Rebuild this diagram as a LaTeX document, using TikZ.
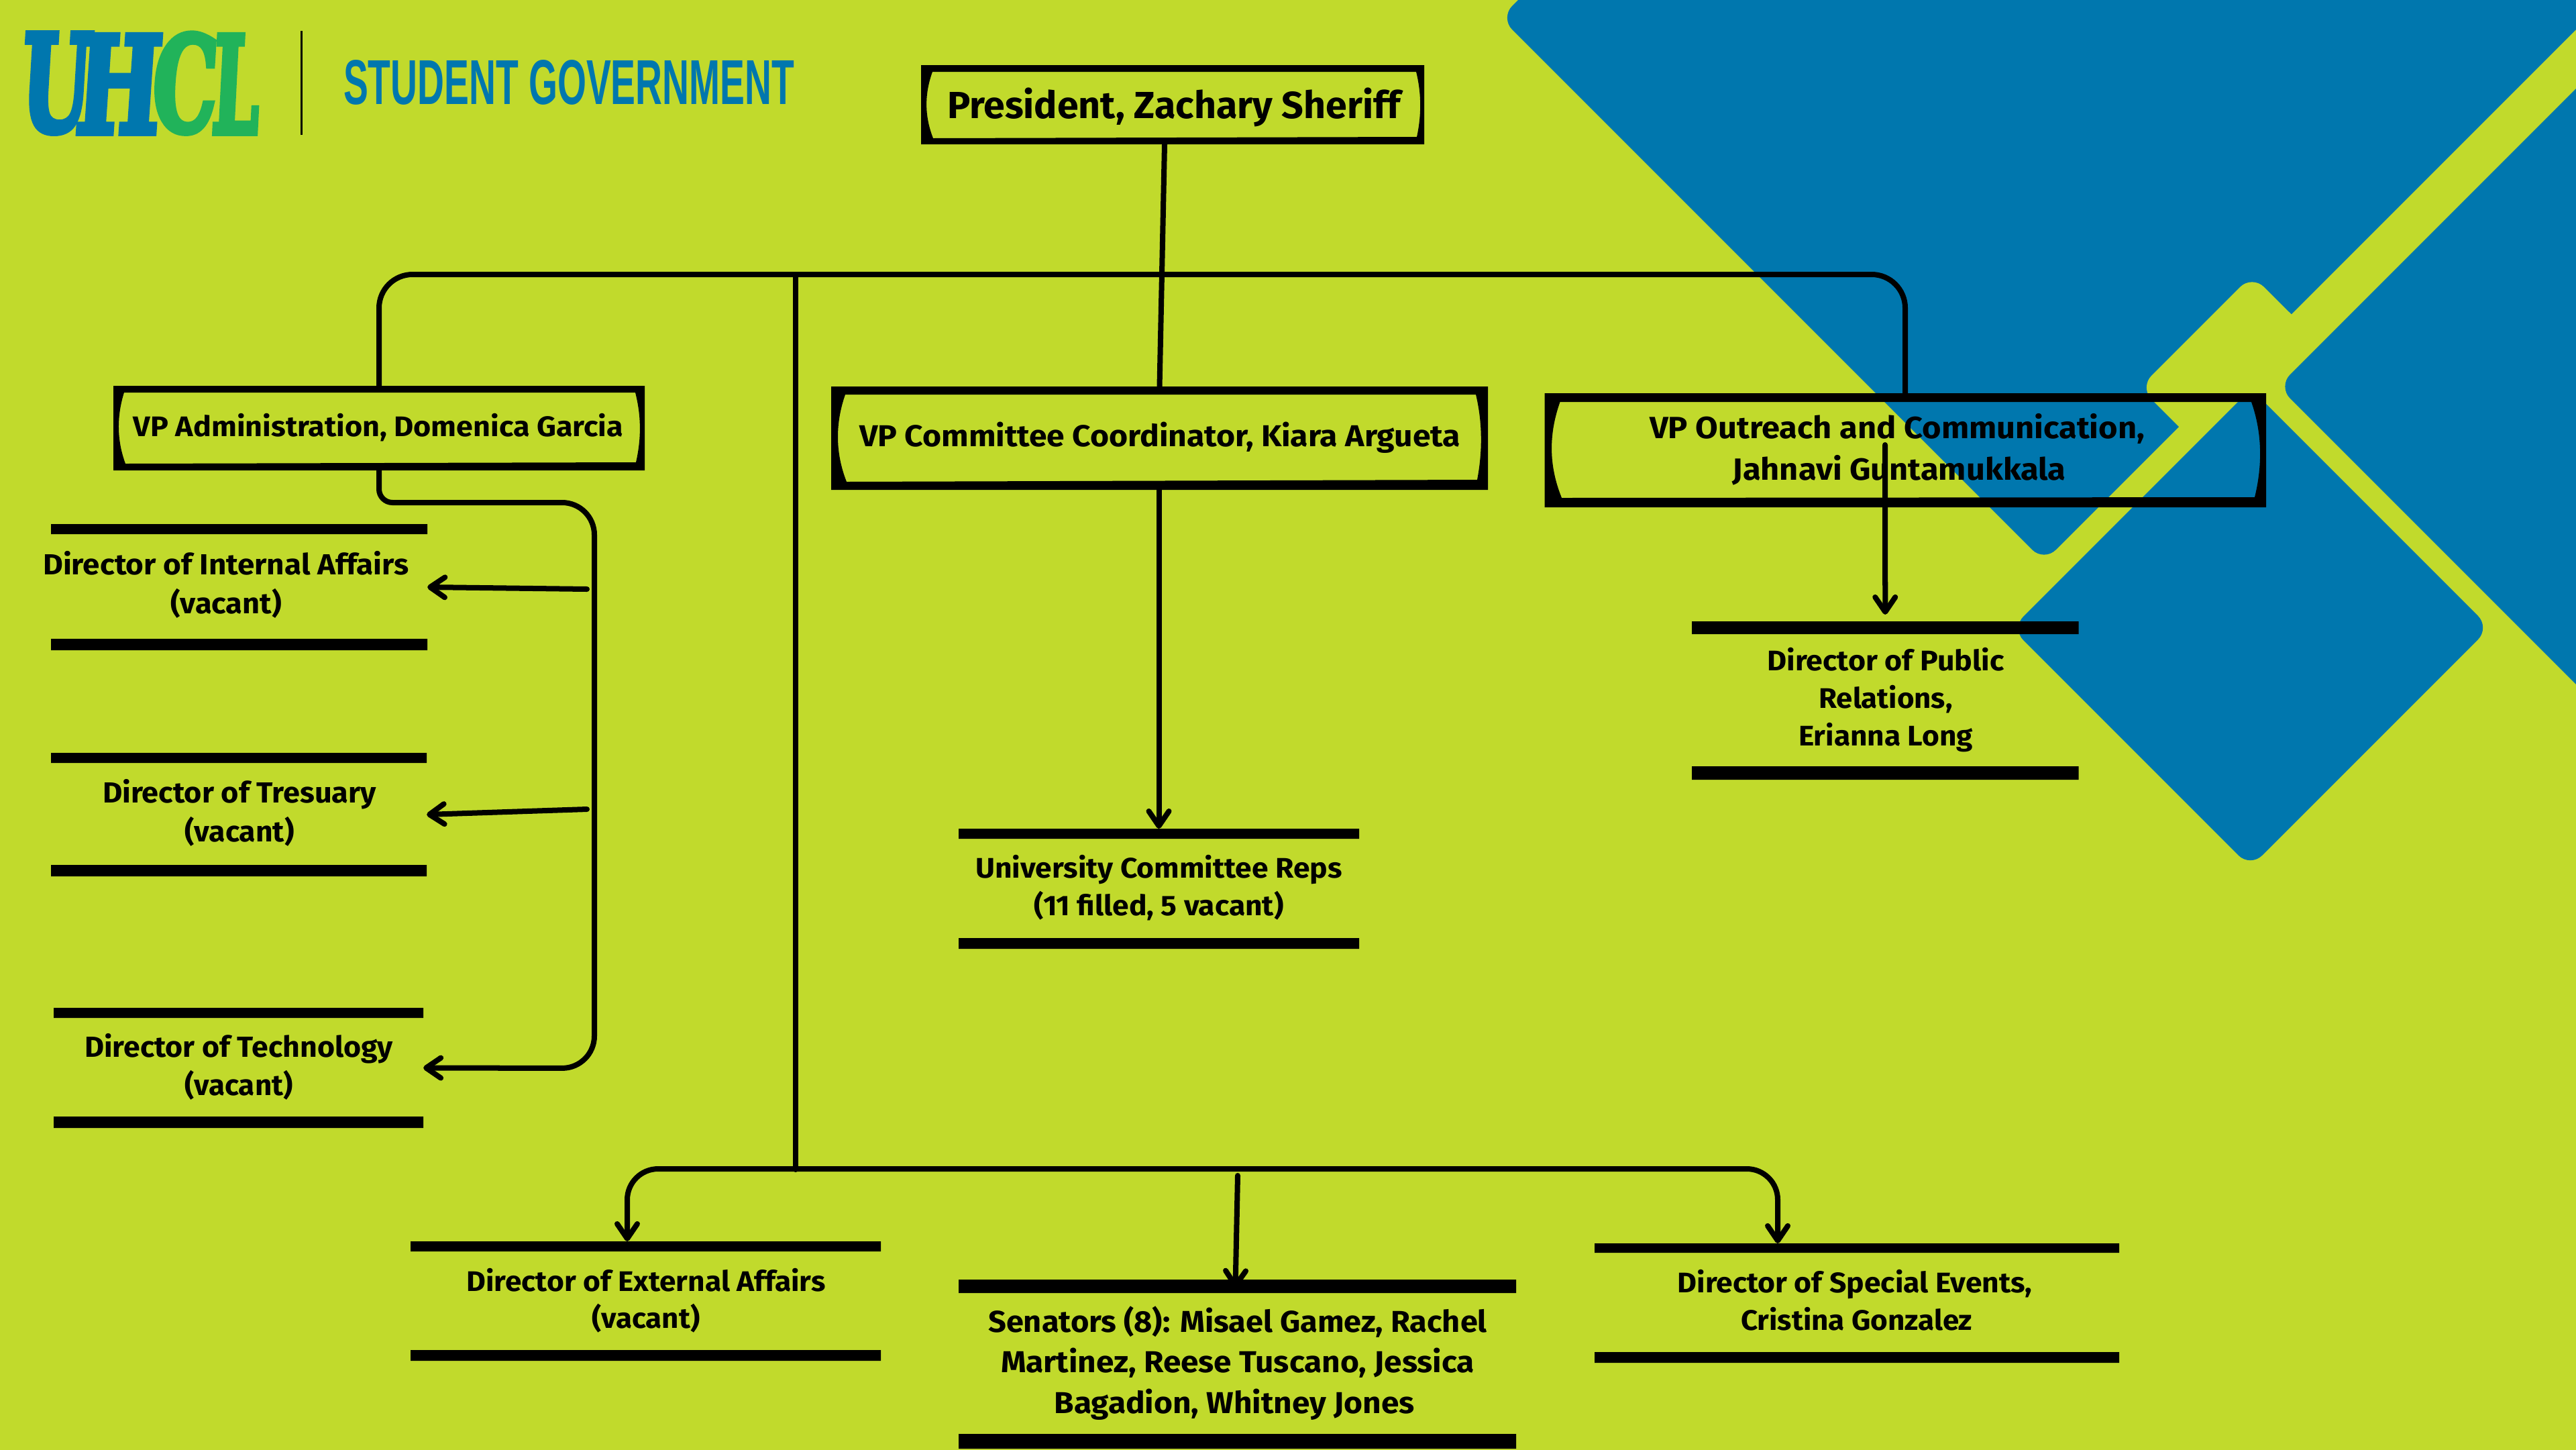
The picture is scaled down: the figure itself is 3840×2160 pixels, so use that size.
\documentclass[tikz,border=0pt]{standalone}
\usepackage{fontspec}
\usepackage{graphicx}
\usetikzlibrary{arrows.meta}
\setmainfont{Fira Sans}
\newfontfamily\logofont[FakeBold=5,FakeSlant=0.1]{DejaVu Serif Bold}
\newfontfamily\headfont{Liberation Sans}
\definecolor{lime}{HTML}{C1DA2C}
\definecolor{uhblue}{HTML}{0077AE}
\definecolor{uhgreen}{HTML}{21B35A}
\newdimen\unitpx \unitpx=0.01cm
\newcommand\Ln[2]{\resizebox{#1\unitpx}{\height}{#2}}
\newcommand\rows[2]{\vtop{\baselineskip=#1\unitpx\lineskiplimit=-100pt\relax\halign{\hfil##\hfil\cr #2}}}
\newcommand\barbox[7]{%
  \node[anchornode, minimum width={(#3-#2)*0.2845pt}, minimum height={(#7-#4)*0.2845pt}] (#1) at ({(#2+#3)/2},{(#4+#7)/2}) {};
  \fill[black] (#2,#4) rectangle (#3,#5) (#2,#6) rectangle (#3,#7);}
\newcommand\vpnode[5]{%
  \node[anchornode, minimum width={(#4-#2)*0.2845pt}, minimum height={(#5-#3)*0.2845pt}] (#1) at ({(#2+#4)/2},{(#3+#5)/2}) {};}
\tikzset{
  anchornode/.style={inner sep=0pt, outer sep=0pt, draw=none},
  lbl/.style={anchor=base, inner sep=0pt, outer sep=0pt, text=black, font=\fontsize{#1}{#1}\selectfont\bfseries},
  conn/.style={line width=0.08cm, line cap=round, draw=black},
  arrowconn/.style={conn, -{Straight Barb[length=0.22cm,width=0.3cm,round]}},
  frameshape/.style={fill=black, even odd rule},
  decor/.style={rounded corners=0.25cm},
  letter/.style={anchor=south west, inner sep=0pt, outer sep=0pt},
}
\begin{document}
\begin{tikzpicture}[x=0.01cm,y=-0.01cm]
\useasboundingbox (0,0) rectangle (3840,2160);
\fill[lime] (-10,-10) rectangle (3850,2170);
% background shapes
\begin{scope}
\clip (-10,-10) rectangle (3850,2170);
\fill[uhblue,decor] (2236.5,26.5) -- (2320,-57) -- (3941,-57) -- (3047,837) -- cycle;
\fill[lime,decor] (3357,410) -- (3624,676) -- (3456,844) -- (3189.5,577.5) -- cycle;
\fill[uhblue,decor] (3396,576) -- (3998,-26) -- (3998,1178) -- cycle;
\fill[uhblue,decor] (3355.5,579.5) -- (3711.5,935.5) -- (3354.5,1292.5) -- (2998.5,936.5) -- cycle;
\end{scope}
% logo
\node[letter,text=uhblue] (logoU) at (28,198) {\resizebox{104\unitpx}{145\unitpx}{\logofont U}};
\node[letter,text=uhblue] (logoH) at (110,198) {\resizebox{126\unitpx}{145\unitpx}{\logofont H}};
\node[letter,text=uhgreen] (logoC) at (224,198) {\resizebox{96\unitpx}{145\unitpx}{\logofont C}};
\node[letter,text=uhgreen] (logoL) at (314,198) {\resizebox{70\unitpx}{145\unitpx}{\logofont L}};
\coordinate (sepT) at (449.5,46);
\coordinate (sepB) at (449.5,201);
\draw[black,line width=0.025cm] (sepT) -- (sepB);
\node[letter,text=uhblue] (title) at (512,156) {\resizebox{672\unitpx}{66\unitpx}{\headfont\bfseries STUDENT GOVERNMENT}};
% anchor nodes
\vpnode{pres}{1373}{97}{2123}{215}
\vpnode{admin}{169}{575}{961}{701}
\vpnode{vpc}{1239}{576}{2218}{730}
\vpnode{vpo}{2302.5}{586}{3378}{756}
% connectors
\coordinate (busL) at (565,409);
\coordinate (busR) at (2840,409);
\coordinate (trunkT) at (1186,409);
\coordinate (trunkB) at (1186,1743);
\coordinate (busB) at (1186,1742);
\coordinate (extbend) at (935,1742);
\coordinate (spebend) at (2650,1742);
\coordinate (admbendA) at (565,749);
\coordinate (admbendB) at (886,749);
\coordinate (admbendC) at (886,1592);
\coordinate (intstart) at (875,878);
\coordinate (trestart) at (875,1206);
\coordinate (senstart) at (1845,1752);
\coordinate (pubstart) at (2810,663);
\barbox{dirint}{76}{637}{781}{796}{952}{969}
\barbox{dirtre}{76}{636}{1122}{1137}{1289}{1306}
\barbox{dirtec}{80}{631}{1502}{1517}{1664}{1681}
\barbox{diruni}{1429}{2026}{1235}{1250}{1398}{1414}
\barbox{dirpub}{2522}{3098.5}{926}{945}{1142}{1162}
\barbox{dirext}{612}{1313}{1850}{1865}{2012}{2028}
\barbox{dirsen}{1429}{2260}{1907}{1927}{2137}{2159}
\barbox{dirspe}{2377}{3159}{1853}{1867}{2015}{2031}
\draw[conn] ([xshift=-0.12cm]pres.south) -- (vpc.north);
\draw[conn,rounded corners=0.5cm] (admin.north) -- (busL) -- (busR) -- (busR |- vpo.north);
\draw[conn] (trunkT) -- (trunkB);
\draw[arrowconn,rounded corners=0.46cm] (busB) -- (extbend) -- (extbend |- dirext.north);
\draw[arrowconn,rounded corners=0.46cm] (busB) -- (spebend) -- (spebend |- dirspe.north);
\draw[arrowconn] (senstart) -- ([xshift=-0.03cm,yshift=-0.13cm]dirsen.north);
\draw[arrowconn] (vpc.south -| diruni.north) -- (diruni.north);
\draw[arrowconn] (pubstart) -- ([yshift=0.1cm]dirpub.north);
\draw[arrowconn] (intstart) -- (dirint.east);
\draw[arrowconn] (trestart) -- (dirtre.east);
\draw[arrowconn,rounded corners=0.2cm] (admin.south) -- (admbendA) [rounded corners=0.48cm] -- (admbendB) -- (admbendC) -- (dirtec.east);
% frames
\fill[frameshape] (1373,97) rectangle (2123,215)
  (1390,107) -- (2111,107) .. controls (2119,139) and (2119,172) .. (2112,204) -- (1391,206) .. controls (1378,173) and (1378,140) .. cycle;
\fill[frameshape] (169,575) rectangle (961,701)
  (185,585) -- (947,585) .. controls (956,620) and (956,654) .. (948,689) -- (187,691) .. controls (174,656) and (174,620) .. cycle;
\fill[frameshape] (1239,576) rectangle (2218,730)
  (1260,588) -- (2200,588) .. controls (2210,630) and (2210,673) .. (2202,715) -- (1262,718) .. controls (1245,675) and (1245,631) .. cycle;
\fill[frameshape] (2302.5,586) rectangle (3378,756)
  (2325.5,599) -- (3356,599) .. controls (3372.5,646) and (3372.5,694) .. (3361,741) -- (2328,742) .. controls (2308.5,694) and (2308.5,647) .. cycle;
% labels
\node[lbl=16] (presT) at (1750,176) {\Ln{676}{President, Zachary Sheriff}};
\node[lbl=12] (adminT) at (564,650) {\Ln{730}{VP Administration, Domenica Garcia}};
\node[lbl=12.8] (vpcT) at (1729,665) {\Ln{896}{VP Committee Coordinator, Kiara Argueta}};
\node[lbl=13] (vpoT) at (2828,653) {\rows{62}{\Ln{738}{VP Outreach and Communication,}\cr \kern6\unitpx\Ln{497}{Jahnavi Guntamukkala}\cr}};
\node[lbl=12.3] (dirintT) at (337,856) {\rows{58.5}{\Ln{545.5}{Director of Internal Affairs}\cr \Ln{165.5}{(vacant)}\cr}};
\node[lbl=12.3] (dirtreT) at (357,1196) {\rows{58}{\Ln{408}{Director of Tresuary}\cr \Ln{163}{(vacant)}\cr}};
\node[lbl=12.3] (dirtecT) at (356,1575) {\rows{57}{\Ln{459.5}{Director of Technology}\cr \Ln{161}{(vacant)}\cr}};
\node[lbl=12] (diruniT) at (1727.5,1308) {\rows{56}{\Ln{546.5}{University Committee Reps}\cr \Ln{372}{(11 filled, 5 vacant)}\cr}};
\node[lbl=12] (dirpubT) at (2811,999) {\rows{56}{\Ln{353}{Director of Public}\cr \Ln{199}{Relations,}\cr \Ln{260}{Erianna Long}\cr}};
\node[lbl=12] (dirextT) at (963,1924) {\rows{55}{\Ln{535}{Director of External Affairs}\cr \Ln{161}{(vacant)}\cr}};
\node[lbl=12.8] (dirsenT) at (1845,1985) {\rows{60.5}{\Ln{743.5}{Senators (8): Misael Gamez, Rachel}\cr \Ln{706}{Martinez, Reese Tuscano, Jessica}\cr \Ln{537}{Bagadion, Whitney Jones}\kern10\unitpx\cr}};
\node[lbl=12] (dirspeT) at (2765,1926) {\rows{56}{\Ln{529}{Director of Special Events,}\cr \kern5\unitpx\Ln{345}{Cristina Gonzalez}\cr}};
\end{tikzpicture}
\end{document}
